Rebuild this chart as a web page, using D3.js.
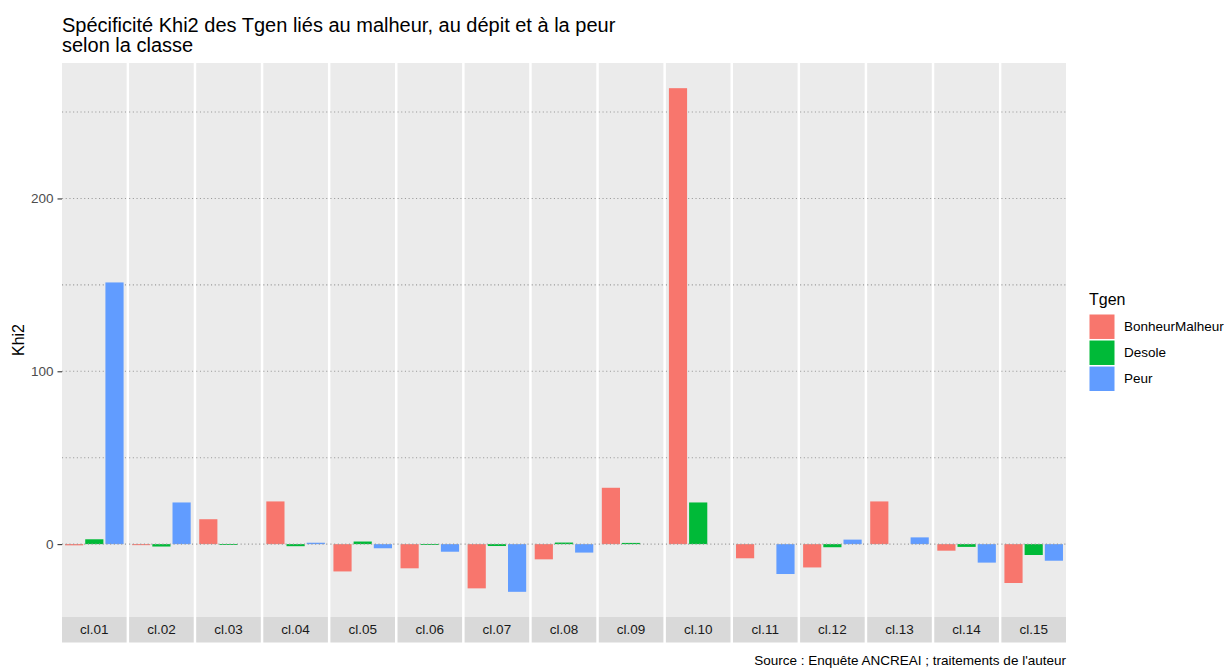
<!DOCTYPE html>
<html>
<head>
<meta charset="utf-8">
<script src="https://cdn.jsdelivr.net/npm/d3@7"></script>
<style>
  html, body { margin: 0; padding: 0; background: #ffffff; }
  svg { display: block; }
  text { font-family: "Liberation Sans", Arial, sans-serif; }
</style>
</head>
<body>
<svg id="chart" width="1229" height="668"></svg>
<script>
// ---- data ----
const classes = ["cl.01","cl.02","cl.03","cl.04","cl.05","cl.06","cl.07","cl.08","cl.09","cl.10","cl.11","cl.12","cl.13","cl.14","cl.15"];
const tgen = ["BonheurMalheur","Desole","Peur"];
const bonheurMalheur = [-0.7, -0.6, 14.4, 24.7, -15.8, -14.0, -25.6, -8.8, 32.6, 263.8, -8.2, -13.5, 24.7, -3.8, -22.5];
const desole         = [ 2.8, -1.4, -0.5, -1.2,   1.5,  -0.5,  -1.1,  0.9,  0.7,  24.1, 0,  -1.8, 0, -1.6,  -6.3];
const peur           = [151.4, 24.1, 0, 0.8,  -2.4,  -4.4, -27.6, -4.9,  0,  0, -17.3,  2.6,  3.9, -10.7, -9.6];
const colors = ["#F8766D", "#00BA38", "#619CFF"];
const yMajor = [0, 100, 200];
const yMinor = [50, 150, 250];
const title1 = "Spécificité Khi2 des Tgen liés au malheur, au dépit et à la peur";
const title2 = "selon la classe";
const yTitle = "Khi2";
const legendTitle = "Tgen";
const caption = "Source : Enquête ANCREAI ; traitements de l'auteur";

const series = [bonheurMalheur, desole, peur];
const rows = [];
classes.forEach((c, i) => tgen.forEach((t, j) => rows.push({cls: c, tgen: t, value: series[j][i], color: colors[j]})));

const svg = d3.select("#chart");
const pLeft = 62, pRight = 1066, pTop = 63, pBottom = 617, stripH = 25.5;
const small = 13.5;

const allVals = rows.map(d => d.value);
const lo = d3.min(allVals), hi = d3.max(allVals);
const pad = (hi - lo) * 0.05;
const y = d3.scaleLinear().domain([lo - pad, hi + pad]).range([pBottom, pTop]);

const fx = d3.scaleBand().domain(classes).range([pLeft, pRight]).paddingInner(0.037).paddingOuter(0);
const x = d3.scaleBand().domain(tgen).range([0, fx.bandwidth()]).paddingInner(0.1).paddingOuter(0.15);

const dash = "1.1,2.6";
const gridCol = "#9a9a9a";

// panels
const panels = svg.selectAll("g.panel").data(classes).join("g")
  .attr("class", "panel")
  .attr("transform", d => `translate(${fx(d)},0)`);

panels.append("rect")
  .attr("x", 0).attr("y", pTop).attr("width", fx.bandwidth()).attr("height", pBottom - pTop)
  .attr("fill", "#EBEBEB");

// gridlines
panels.each(function() {
  const g = d3.select(this);
  g.selectAll("line.grid").data(yMajor.concat(yMinor).filter(v => v !== 0)).join("line")
    .attr("class", "grid")
    .attr("x1", 0).attr("x2", fx.bandwidth())
    .attr("y1", d => y(d)).attr("y2", d => y(d))
    .attr("stroke", gridCol).attr("stroke-width", 1.1)
    .attr("stroke-dasharray", dash);
});

// bars
panels.each(function(c) {
  const g = d3.select(this);
  g.selectAll("rect.bar").data(rows.filter(r => r.cls === c)).join("rect")
    .attr("class", "bar")
    .attr("x", d => x(d.tgen))
    .attr("width", x.bandwidth())
    .attr("y", d => y(Math.max(0, d.value)))
    .attr("height", d => Math.abs(y(d.value) - y(0)))
    .attr("fill", d => d.color);
});

// zero dotted line on top
panels.append("line")
  .attr("x1", 0).attr("x2", fx.bandwidth())
  .attr("y1", y(0)).attr("y2", y(0))
  .attr("stroke", gridCol).attr("stroke-width", 1.1)
  .attr("stroke-dasharray", dash);

// strips
panels.append("rect")
  .attr("x", 0).attr("y", pBottom).attr("width", fx.bandwidth()).attr("height", stripH)
  .attr("fill", "#D9D9D9");
panels.append("text")
  .attr("x", fx.bandwidth() / 2).attr("y", pBottom + stripH / 2)
  .attr("dy", "0.35em").attr("text-anchor", "middle")
  .attr("font-size", small).attr("fill", "#1A1A1A")
  .text(d => d);

// y axis
const yAxis = d3.axisLeft(y).tickValues(yMajor).tickSize(4.5).tickPadding(4).tickFormat(d3.format("d"));
const ga = svg.append("g").attr("transform", `translate(${pLeft},0)`).call(yAxis);
ga.select(".domain").remove();
ga.selectAll(".tick line").attr("stroke", "#333333").attr("stroke-width", 1.1);
ga.selectAll(".tick text").attr("fill", "#4D4D4D").attr("font-size", small)
  .attr("font-family", "Liberation Sans, Arial, sans-serif");

svg.append("text")
  .attr("transform", `translate(24,${(pTop + pBottom) / 2}) rotate(-90)`)
  .attr("text-anchor", "middle").attr("font-size", 16).attr("fill", "#000")
  .text(yTitle);

// title
svg.append("text").attr("x", pLeft).attr("y", 31.5).attr("font-size", 20).attr("fill", "#000").text(title1);
svg.append("text").attr("x", pLeft).attr("y", 51.5).attr("font-size", 20).attr("fill", "#000").text(title2);

// legend
const lg = svg.append("g");
lg.append("text").attr("x", 1089).attr("y", 305).attr("font-size", 16).attr("fill", "#000").text(legendTitle);
const keyY = d3.scaleBand().domain(tgen).range([314.5, 391]).paddingInner(0.06);
tgen.forEach((t, j) => {
  lg.append("rect").attr("x", 1089.5).attr("y", keyY(t)).attr("width", 25).attr("height", keyY.bandwidth())
    .attr("fill", colors[j]);
  lg.append("text").attr("x", 1124).attr("y", keyY(t) + keyY.bandwidth() / 2).attr("dy", "0.35em")
    .attr("font-size", small).attr("fill", "#000").text(t);
});

// caption
svg.append("text").attr("x", pRight).attr("y", 665).attr("text-anchor", "end")
  .attr("font-size", small).attr("fill", "#000").text(caption);
</script>
</body>
</html>
